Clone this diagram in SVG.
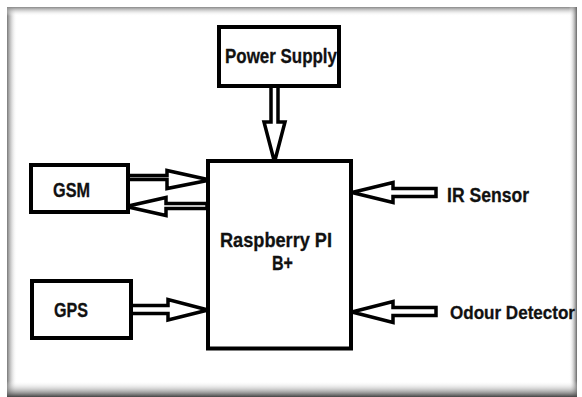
<svg xmlns="http://www.w3.org/2000/svg" width="582" height="397" viewBox="0 0 582 397">
  <defs>
    <linearGradient id="gL" x1="0" y1="0" x2="1" y2="0">
      <stop offset="0" stop-color="#777" stop-opacity="1"/>
      <stop offset="1" stop-color="#fff" stop-opacity="0"/>
    </linearGradient>
    <linearGradient id="gT" x1="0" y1="0" x2="0" y2="1">
      <stop offset="0" stop-color="#888" stop-opacity="1"/>
      <stop offset="1" stop-color="#fff" stop-opacity="0"/>
    </linearGradient>
    <linearGradient id="gR" x1="0" y1="0" x2="1" y2="0">
      <stop offset="0" stop-color="#fff" stop-opacity="0"/>
      <stop offset="1" stop-color="#666" stop-opacity="1"/>
    </linearGradient>
    <linearGradient id="gB" x1="0" y1="0" x2="0" y2="1">
      <stop offset="0" stop-color="#fff" stop-opacity="0"/>
      <stop offset="1" stop-color="#444" stop-opacity="1"/>
    </linearGradient>
    <style>
      .box { fill: #fff; stroke: #000; stroke-width: 4; }
      .arr { fill: #fff; stroke: #000; stroke-width: 3.5; stroke-linejoin: miter; }
      .lbl { font-family: "Liberation Sans Narrow", "Liberation Sans", Arial, sans-serif; font-weight: bold; fill: #111; font-size: 20.5px; stroke: #111; stroke-width: 0.3; }
    </style>
  </defs>

  <rect x="0" y="0" width="582" height="397" fill="#fff"/>
  <g id="frame">
    <rect x="7" y="7" width="570" height="390" fill="#fff"/>
    <rect x="7" y="7" width="10" height="390" fill="url(#gL)"/>
    <rect x="7" y="7" width="570" height="9" fill="url(#gT)"/>
    <rect x="569" y="7" width="8" height="390" fill="url(#gR)"/>
    <rect x="7" y="381" width="570" height="16" fill="url(#gB)"/>
  </g>

  <g id="connectors">
    <path id="c-power" class="arr" d="M271,86 L278,86 L278,122 L285,122 L274.5,162 L264,122 L271,122 Z"/>
    <path id="c-gsm-out" class="arr" d="M128,175.5 L167,175.5 L167,170.5 L210,180 L167,188.5 L167,179.5 L128,179.5 Z"/>
    <path id="c-gsm-in" class="arr" d="M207,203.5 L166,203.5 L166,197.5 L126,206.5 L166,215.5 L166,208.5 L207,208.5 Z"/>
    <path id="c-gps" class="arr" d="M131,305.5 L168,305.5 L168,299.5 L208,310 L168,320 L168,313.5 L131,313.5 Z"/>
    <path id="c-ir" class="arr" d="M436,188.5 L393,188.5 L393,182.5 L352,192.5 L393,202.5 L393,196.5 L436,196.5 Z"/>
    <path id="c-odour" class="arr" d="M436,307.5 L393,307.5 L393,301.5 L352,312 L393,322.5 L393,315.5 L436,315.5 Z"/>
  </g>

  <g id="power-supply">
    <rect class="box" x="219" y="27" width="120" height="59"/>
    <text class="lbl" x="225" y="63" textLength="112" lengthAdjust="spacingAndGlyphs" font-size="21">Power Supply</text>
  </g>

  <g id="raspberry-pi">
    <rect class="box" x="208" y="161" width="143" height="187.5"/>
    <text class="lbl" x="220" y="247" textLength="112" lengthAdjust="spacingAndGlyphs">Raspberry PI</text>
    <text class="lbl" x="272" y="270" textLength="21" lengthAdjust="spacingAndGlyphs">B+</text>
  </g>

  <g id="gsm">
    <rect class="box" x="31" y="165" width="97" height="47"/>
    <text class="lbl" x="53" y="197" textLength="37" lengthAdjust="spacingAndGlyphs">GSM</text>
  </g>

  <g id="gps">
    <rect class="box" x="32" y="281" width="99" height="57"/>
    <text class="lbl" x="54" y="317" textLength="34" lengthAdjust="spacingAndGlyphs">GPS</text>
  </g>

  <g id="ir-sensor">
    <text class="lbl" x="447" y="202" textLength="82" lengthAdjust="spacingAndGlyphs">IR Sensor</text>
  </g>

  <g id="odour-detector">
    <text class="lbl" x="450" y="319" textLength="125" lengthAdjust="spacingAndGlyphs" style="font-size:17.5px">Odour Detector</text>
  </g>
</svg>
